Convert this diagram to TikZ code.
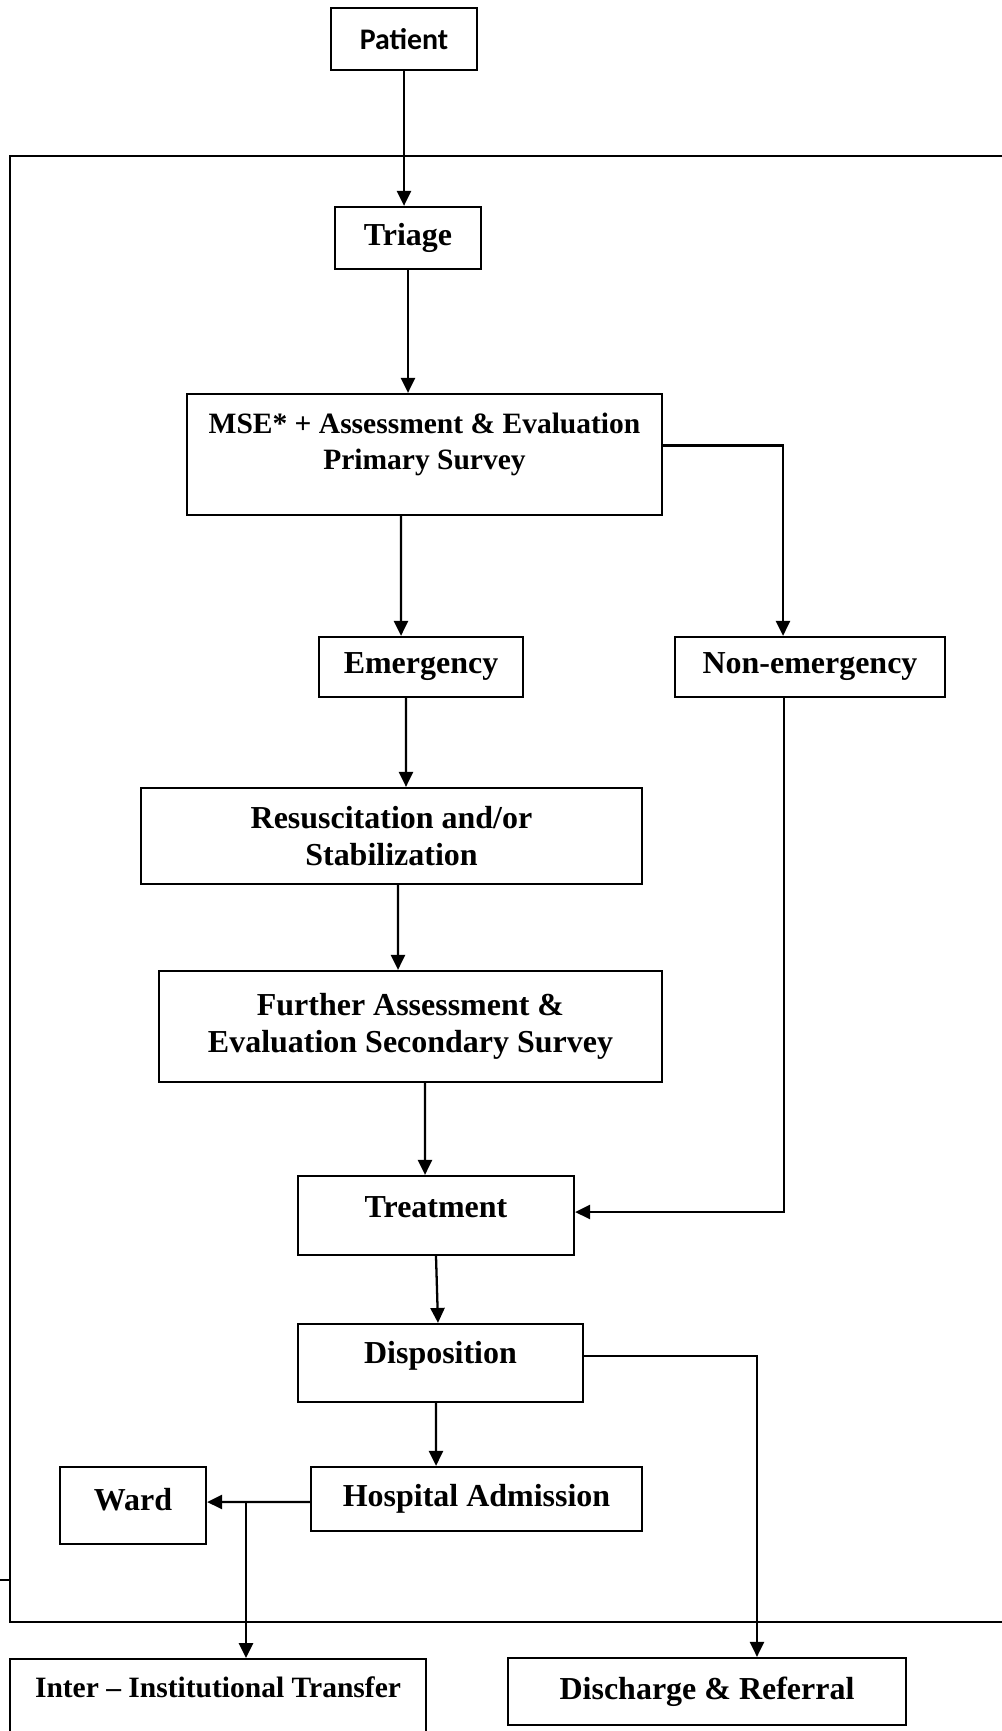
\documentclass[tikz,border=0pt]{standalone}
\usepackage{fontspec}
\setmainfont{Liberation Serif}
\newfontfamily\calibri{Carlito}
\usepackage{xcolor}
\usepackage{tikz}
\usetikzlibrary{positioning,arrows.meta}

\begin{document}
\begin{tikzpicture}[x=0.02cm, y=-0.02cm,
    box/.style={draw, line width=1.3pt, inner sep=0pt, align=center,
        font=\fontsize{18.2}{21}\selectfont\bfseries},
    small/.style={font=\fontsize{16.8}{20.5}\selectfont\bfseries},
    link/.style={line width=1.3pt, -{Triangle[length=8.5pt, width=8pt]}},
    frame/.style={line width=1.3pt}]
\useasboundingbox (0,0) rectangle (1001,1731);

% outer frame
\draw[frame] (10,156) rectangle (1040,1622);
\draw[frame] (0,1580) -- (10,1580);

\node[box, minimum width=2.92cm, minimum height=1.24cm, font=\calibri\fontsize{17}{20}\selectfont\bfseries] (patient) at (404,39) {Patient};
\node[box, minimum width=2.92cm, minimum height=1.24cm] (triage) at (408,238) {Triage};
\node[box, small, minimum width=9.5cm, minimum height=2.42cm, text depth=0.54cm] (mse) at (424.5,454.5) {MSE* + Assessment \& Evaluation\\ Primary Survey};
\node[box, minimum width=4.08cm, minimum height=1.2cm] (emergency) at (421,667) {Emergency};
\node[box, minimum width=5.4cm, minimum height=1.2cm] (non_emergency) at (810,667) {Non-emergency};
\node[box, minimum width=10.02cm, minimum height=1.92cm] (resuscitation) at (391.5,836) {Resuscitation and/or\\ Stabilization};
\node[box, minimum width=10.06cm, minimum height=2.22cm] (further) at (410.5,1026.5) {Further Assessment \&\\ Evaluation Secondary Survey};
\node[box, minimum width=5.52cm, minimum height=1.58cm, text depth=0.32cm] (treatment) at (436,1215.5) {Treatment};
\node[box, minimum width=5.7cm, minimum height=1.56cm, text depth=0.41cm] (disposition) at (440.5,1363) {Disposition};
\node[box, minimum width=6.62cm, minimum height=1.28cm] (hospital) at (476.5,1499) {Hospital Admission};
\node[box, minimum width=2.92cm, minimum height=1.54cm, text depth=0.24cm] (ward) at (133,1505.5) {Ward};
\node[box, small, anchor=north, minimum width=8.32cm, text height=0.6cm, text depth=1.5cm, inner ysep=0.17cm] (inter) at (218,1658) {Inter – Institutional Transfer};
\node[box, minimum width=7.96cm, minimum height=1.34cm] (discharge) at (707,1691.5) {Discharge \& Referral};

\coordinate (split) at (246,1502);

\draw[link] (patient.south) -- (patient.south |- triage.north);
\draw[link] (triage.south) -- (triage.south |- mse.north);
\draw[link] ([xshift=-0.47cm]mse.south) -- ([xshift=-0.4cm]emergency.north);
\draw[link] ([yshift=0.18cm]mse.east) -| ([xshift=-0.54cm]non_emergency.north);
\draw[link] ([xshift=-0.3cm]emergency.south) -- ([xshift=0.29cm]resuscitation.north);
\draw[link] ([xshift=0.13cm]resuscitation.south) -- ([xshift=-0.25cm]further.north);
\draw[link] ([xshift=0.29cm]further.south) -- ([xshift=-0.22cm]treatment.north);
\draw[link] ([xshift=-0.52cm]non_emergency.south) |- ([yshift=0.07cm]treatment.east);
\draw[link] (treatment.south) -- ([xshift=-0.05cm]disposition.north);
\draw[link] ([yshift=0.14cm]disposition.east) -| ([xshift=1cm]discharge.north);
\draw[link] ([xshift=-0.09cm]disposition.south) -- ([xshift=-0.81cm]hospital.north);
\draw[link] ([yshift=-0.06cm]hospital.west) -- ([yshift=0.07cm]ward.east);
\draw[link] (split) -- (split |- inter.north);

\end{tikzpicture}
\end{document}
